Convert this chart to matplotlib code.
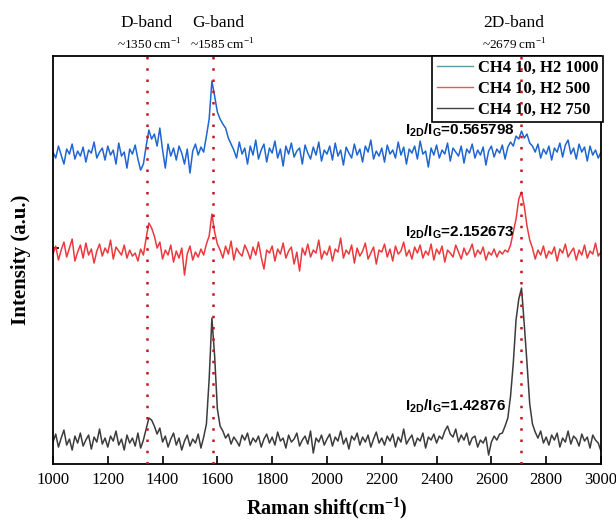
import matplotlib
matplotlib.use("Agg")
from matplotlib import pyplot as plt
from matplotlib.lines import Line2D
import numpy as np

plt.rcParams['font.family'] = ['Liberation Serif', 'DejaVu Serif']
plt.rcParams['mathtext.fontset'] = 'custom'
plt.rcParams['mathtext.rm'] = 'Liberation Serif'
plt.rcParams['mathtext.bf'] = 'Liberation Serif:bold'
plt.rcParams['mathtext.sf'] = 'Liberation Sans:bold'

# Datos (intensidad en unidades arbitrarias con desplazamiento)
shift = np.arange(1000, 3001, 10)

blue_1000 = [312, 306, 318, 309, 300, 315, 310, 320, 305, 313, 308, 317, 302, 314, 311, 322, 306, 312, 316, 304,
             318, 309, 314, 300, 321, 308, 312, 296, 315, 310, 319, 305, 294, 300, 318, 334, 325, 330, 318, 336,
             314, 296, 320, 308, 316, 304, 318, 311, 300, 315, 291, 313, 320, 309, 317, 312, 328, 345, 383, 368,
             352, 345, 340, 336, 326, 320, 314, 306, 322, 310, 316, 300, 318, 309, 324, 305, 314, 320, 302, 316,
             311, 323, 306, 315, 298, 318, 310, 321, 307, 313, 316, 300, 319, 311, 305, 317, 309, 322, 303, 314,
             310, 318, 304, 321, 308, 314, 299, 317, 311, 306, 320, 309, 315, 302, 318, 312, 324, 305, 313, 308,
             316, 302, 319, 310, 314, 306, 322, 309, 317, 300, 315, 311, 318, 305, 323, 310, 313, 297, 316, 309,
             319, 306, 314, 310, 321, 303, 316, 312, 308, 318, 301, 315, 311, 320, 306, 314, 309, 317, 299, 313,
             318, 307, 315, 311, 319, 305, 317, 322, 318, 328, 325, 333, 326, 330, 321, 318, 312, 320, 306, 315,
             310, 318, 304, 316, 312, 321, 307, 319, 324, 310, 316, 305, 320, 312, 317, 303, 318, 309, 314, 306, 312]

red_500 = [210, 218, 204, 214, 222, 207, 216, 225, 203, 212, 219, 206, 221, 209, 215, 201, 213, 220, 208, 216,
           211, 224, 205, 217, 213, 209, 219, 206, 214, 208, 211, 203, 215, 209, 226, 241, 236, 228, 216, 222,
           205, 214, 209, 219, 202, 213, 206, 216, 189, 210, 218, 204, 212, 207, 215, 209, 220, 228, 250, 232,
           220, 214, 206, 218, 210, 223, 204, 216, 211, 208, 219, 213, 205, 217, 209, 222, 207, 195, 214, 211,
           218, 203, 215, 210, 221, 206, 213, 217, 200, 212, 193, 216, 209, 220, 207, 214, 211, 224, 205, 213,
           209, 218, 203, 215, 212, 226, 206, 214, 210, 219, 201, 216, 208, 213, 221, 205, 211, 217, 200, 214,
           212, 220, 207, 215, 203, 218, 210, 213, 222, 208, 214, 205, 217, 211, 219, 206, 213, 209, 220, 204,
           215, 210, 218, 202, 214, 211, 207, 219, 212, 205, 216, 209, 213, 220, 207, 214, 210, 217, 204, 212,
           209, 215, 207, 213, 210, 214, 212, 219, 232, 245, 265, 272, 258, 238, 224, 216, 205, 214, 209, 218,
           206, 213, 210, 217, 203, 215, 211, 220, 207, 212, 216, 204, 214, 209, 219, 206, 213, 210, 221, 208, 212]

black_750 = [22, 30, 17, 26, 34, 19, 25, 14, 28, 21, 31, 18, 24, 29, 15, 27, 22, 35, 20, 26,
             17, 28, 23, 33, 19, 25, 14, 29, 21, 26, 18, 31, 16, 24, 35, 46, 44, 38, 30, 36,
             22, 28, 17, 25, 31, 19, 26, 14, 23, 29, 18, 25, 21, 30, 16, 27, 40, 85, 146, 108,
             55, 38, 33, 26, 30, 20, 27, 23, 18, 29, 24, 31, 19, 26, 22, 28, 17, 25, 30, 21,
             27, 19, 32, 23, 26, 16, 29, 22, 25, 31, 18, 24, 28, 20, 33, 11, 26, 22, 29, 19,
             25, 30, 18, 27, 23, 33, 20, 26, 15, 28, 24, 31, 19, 27, 22, 29, 17, 25, 32, 21,
             26, 19, 28, 23, 30, 17, 27, 22, 35, 20, 25, 29, 18, 26, 23, 31, 16, 27, 24, 30,
             21, 28, 25, 33, 38, 30, 27, 35, 22, 29, 24, 31, 19, 26, 28, 17, 24, 21, 27, 9,
             22, 28, 24, 30, 31, 38, 46, 68, 101, 144, 165, 176, 140, 101, 60, 40, 32, 26, 33, 21,
             27, 19, 29, 24, 31, 17, 26, 22, 33, 20, 28, 25, 18, 30, 23, 27, 16, 29, 24, 21, 13]

labels = ["CH4 10, H2 1000", "CH4 10, H2 500", "CH4 10, H2 750"]
band_pos = [1343, 1585, 2708]
band_names = ["D-band", "G-band", "2D-band"]
band_text_x = [1340, 1602, 2682]
band_cm = ["~1350 cm$^{-1}$", "~1585 cm$^{-1}$", "~2679 cm$^{-1}$"]
band_cm_x = [1352, 1617, 2682]
ratios = ["0.565798", "2.152673", "1.42876"]
ratio_y = [334, 232, 58]

fig = plt.figure(figsize=(6.16, 5.22), dpi=100)
ax = fig.add_axes([0.086, 0.111, 0.8896, 0.7816])

ax.plot(shift, blue_1000, color='#1f66d1', lw=1.1)
ax.plot(shift, red_500, color='#ea3a3e', lw=1.1)
ax.plot(shift, black_750, color='#3c3c3c', lw=1.1)

for xb in band_pos:
    ax.axvline(xb, color='#c8141c', lw=1.8, linestyle=(0, (1, 3.5)), zorder=6)

for xt, name in zip(band_text_x, band_names):
    ax.text(xt, 1.081, name, transform=ax.get_xaxis_transform(), ha='center', va='center', fontsize=12.5)
for xt, name in zip(band_cm_x, band_cm):
    ax.text(xt, 1.027, name, transform=ax.get_xaxis_transform(), ha='center', va='center', fontsize=9.5)

for yv, r in zip(ratio_y, ratios):
    ax.text(2285, yv, r'$\mathsf{I_{2D}/I_{G}}$=' + r, ha='left', va='center', fontsize=11,
            family='Liberation Sans', weight='bold')

handles = [Line2D([], [], color=c, lw=1.0) for c in ['#5f98ad', '#e25a5a', '#444444']]
leg = ax.legend(handles, labels, loc='upper right', bbox_to_anchor=(1.0035, 1.0), borderaxespad=0,
                prop={'weight': 'bold', 'size': 12}, fancybox=False, framealpha=1,
                edgecolor='black', handlelength=2.2, handletextpad=0.3, labelspacing=0.3,
                borderpad=0.25)
leg.get_frame().set_linewidth(1.2)

ax.set_xlim(1000, 3000)
ax.set_ylim(0, 408)
ax.set_xticks(range(1000, 3001, 200))
ax.set_yticks([216])
ax.set_yticklabels([])
ax.tick_params(axis='x', direction='in', length=6, width=1.2, labelsize=12, pad=6)
ax.tick_params(axis='y', direction='in', length=4, width=1.2)
for s in ax.spines.values():
    s.set_linewidth(1.3)

ax.set_xlabel(r"Raman shift(cm$^{\mathbf{-1}}$)", fontsize=14.5, fontweight='bold', labelpad=5)
ax.set_ylabel("Intensity (a.u.)", fontsize=15, fontweight='bold', labelpad=12)

fig.savefig("out.png", dpi=100)
